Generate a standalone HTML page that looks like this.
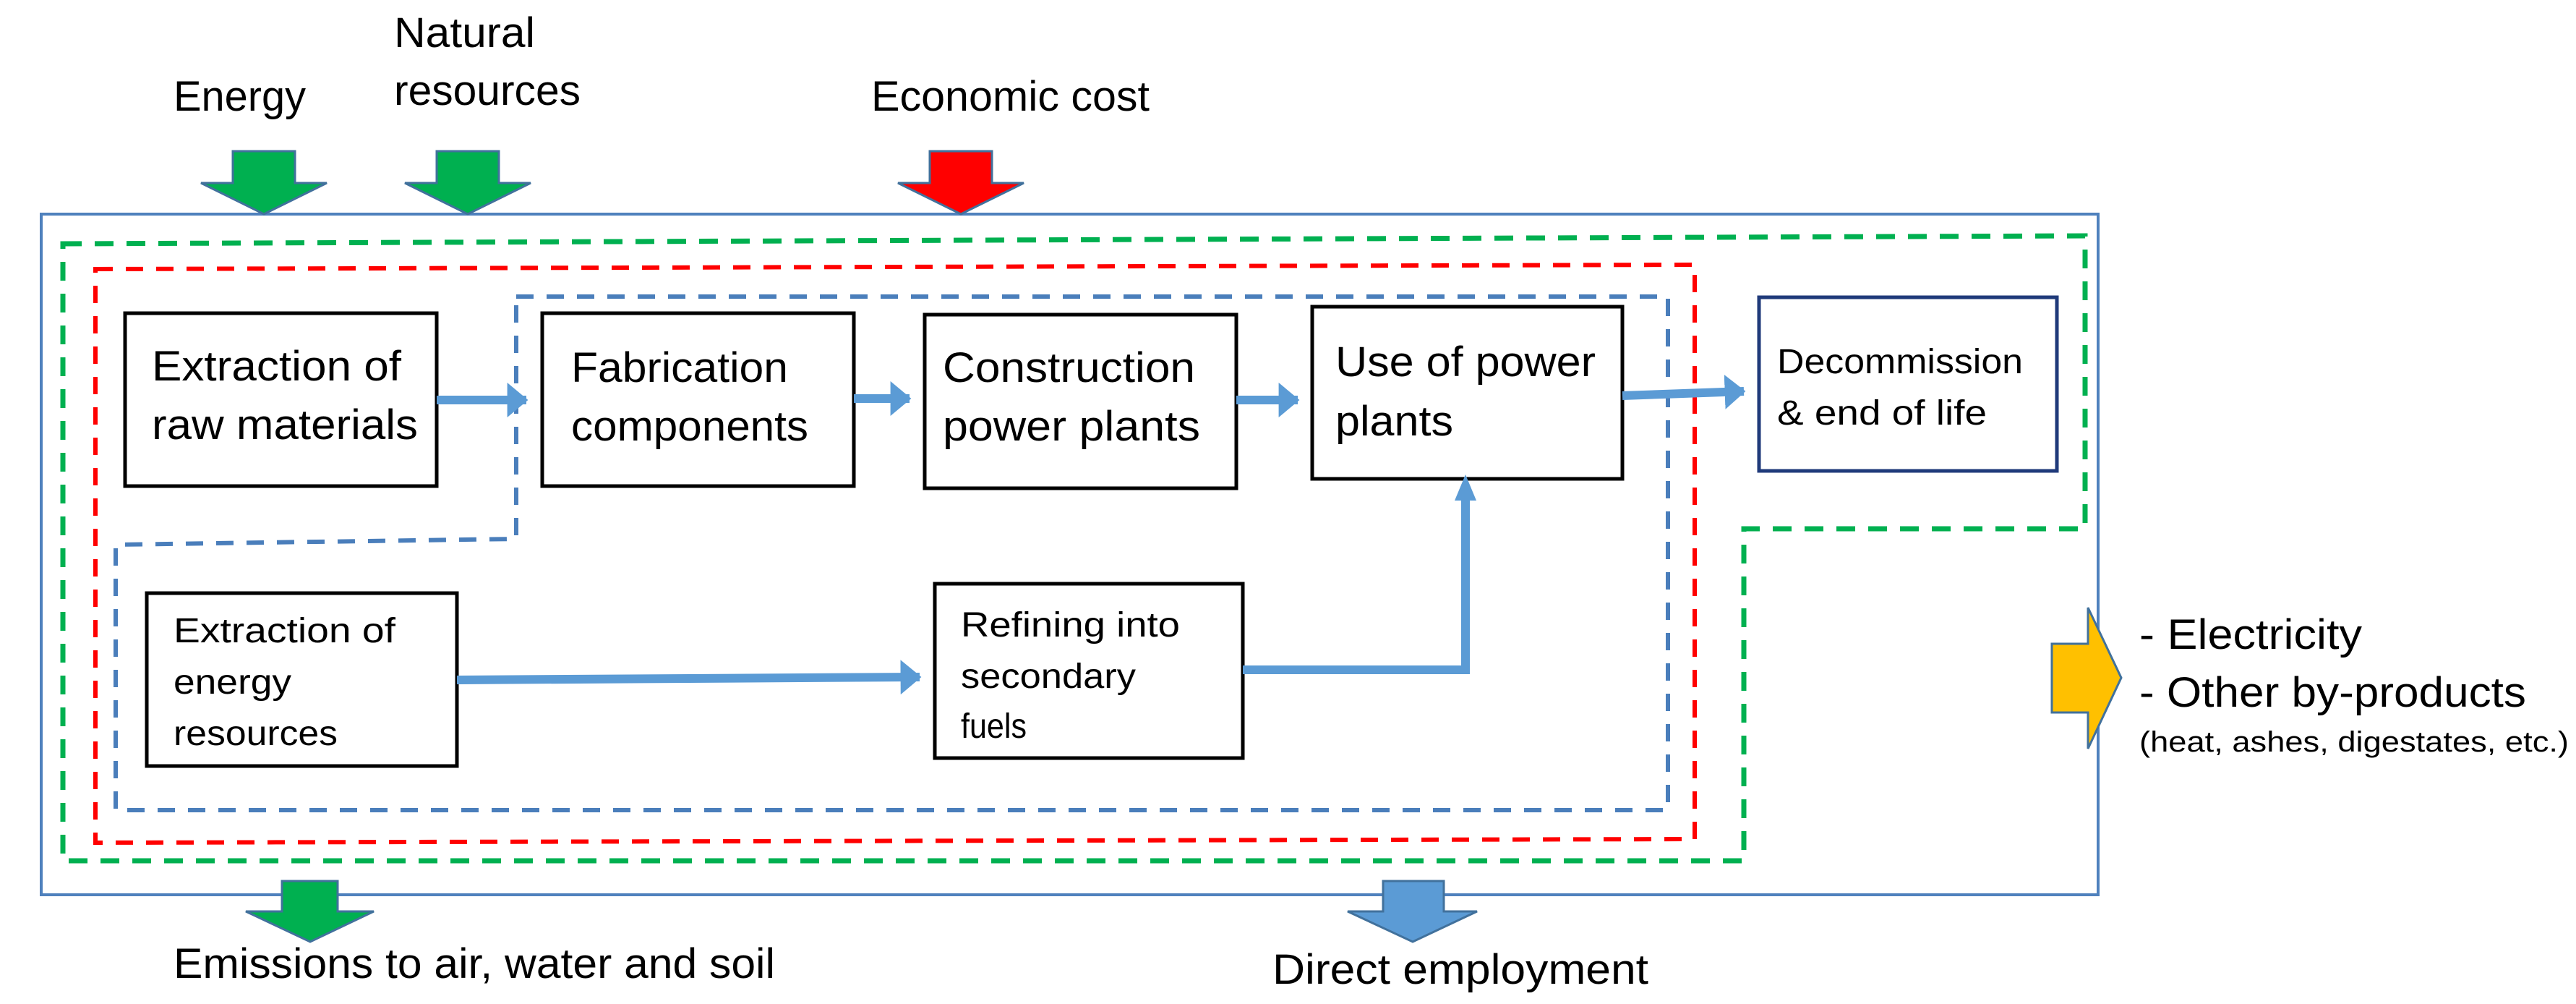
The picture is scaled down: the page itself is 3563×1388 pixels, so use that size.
<!DOCTYPE html>
<html><head><meta charset="utf-8"><style>
html,body{margin:0;padding:0;background:#fff;}
svg{display:block;}
text{font-family:"Liberation Sans",sans-serif;fill:#000;}
</style></head><body>
<svg width="3563" height="1388" viewBox="0 0 3563 1388" xmlns="http://www.w3.org/2000/svg">
<defs>
<marker id="ah" markerWidth="4" markerHeight="4" refX="2.2" refY="2" orient="auto" markerUnits="strokeWidth">
<path d="M0,0 L2.4,2 L0,4 Z" fill="#5B9BD5"/></marker>
</defs>
<!-- outer box -->
<rect x="57" y="296" width="2845" height="941" fill="none" stroke="#4F81BD" stroke-width="4"/>
<!-- green dashed -->
<path d="M87,337 L2884,326 L2884,731 L2412,731 L2412,1190 L87,1190 Z" fill="none" stroke="#00B050" stroke-width="7" stroke-dasharray="26,18"/>
<!-- red dashed -->
<path d="M132,372 L2344,366 L2344,1160 L132,1165 Z" fill="none" stroke="#FF0000" stroke-width="6" stroke-dasharray="24,18"/>
<!-- blue dashed -->
<path d="M714,410 L2307,410 L2307,1120 L160,1120 L160,753 L714,745 Z" fill="none" stroke="#4A7EBB" stroke-width="6" stroke-dasharray="24,18"/>
<!-- boxes -->
<g fill="#fff" stroke="#000" stroke-width="5">
<rect x="173" y="433" width="431" height="239"/>
<rect x="750" y="433" width="431" height="239"/>
<rect x="1279" y="435" width="431" height="240"/>
<rect x="1815" y="424" width="429" height="238"/>
<rect x="203" y="820" width="429" height="239"/>
<rect x="1293" y="807" width="426" height="241"/>
</g>
<rect x="2433" y="411" width="412" height="240" fill="#fff" stroke="#1F3A7A" stroke-width="5"/>
<!-- connectors -->
<g stroke="#5B9BD5" stroke-width="12" fill="none">
<line x1="604" y1="553" x2="728" y2="553" marker-end="url(#ah)"/>
<line x1="1181" y1="551" x2="1258" y2="551" marker-end="url(#ah)"/>
<line x1="1710" y1="553" x2="1795" y2="553" marker-end="url(#ah)"/>
<line x1="2244" y1="547" x2="2412" y2="541" marker-end="url(#ah)"/>
<line x1="632" y1="940" x2="1272" y2="936" marker-end="url(#ah)"/>
<polyline points="1719,926 2027,926 2027,686"/>
</g>
<path d="M2012,692 L2027,656 L2042,692 Z" fill="#5B9BD5"/>
<!-- top arrows -->
<g stroke="#41719C" stroke-width="3">
<path d="M322,209 L408,209 L408,253 L452,253 L365,296 L278,253 L322,253 Z" fill="#00B050"/>
<path d="M604,209 L690,209 L690,253 L734,253 L647,296 L560,253 L604,253 Z" fill="#00B050"/>
<path d="M1286,209 L1372,209 L1372,253 L1416,253 L1329,296 L1242,253 L1286,253 Z" fill="#FF0000"/>
<path d="M390,1218 L467,1218 L467,1260 L517,1260 L429,1302 L340,1260 L390,1260 Z" fill="#00B050"/>
<path d="M1913,1218 L1997,1218 L1997,1260 L2043,1260 L1954,1302 L1864,1260 L1913,1260 Z" fill="#5B9BD5"/>
<path d="M2838,890 L2888,890 L2888,840 L2934,937 L2888,1035 L2888,985 L2838,985 Z" fill="#FFC000"/>
</g>
<!-- labels -->
<g font-size="58">
<text x="240" y="153" textLength="183" lengthAdjust="spacingAndGlyphs">Energy</text>
<text x="545" y="65" textLength="195" lengthAdjust="spacingAndGlyphs">Natural</text>
<text x="545" y="145" textLength="258" lengthAdjust="spacingAndGlyphs">resources</text>
<text x="1205" y="153" textLength="385" lengthAdjust="spacingAndGlyphs">Economic cost</text>
<text x="210" y="526" textLength="345" lengthAdjust="spacingAndGlyphs">Extraction of</text>
<text x="210" y="607" textLength="368" lengthAdjust="spacingAndGlyphs">raw materials</text>
<text x="790" y="528" textLength="300" lengthAdjust="spacingAndGlyphs">Fabrication</text>
<text x="790" y="609" textLength="328" lengthAdjust="spacingAndGlyphs">components</text>
<text x="1304" y="528" textLength="349" lengthAdjust="spacingAndGlyphs">Construction</text>
<text x="1304" y="609" textLength="356" lengthAdjust="spacingAndGlyphs">power plants</text>
<text x="1847" y="520" textLength="360" lengthAdjust="spacingAndGlyphs">Use of power</text>
<text x="1847" y="602" textLength="163" lengthAdjust="spacingAndGlyphs">plants</text>
<text x="240" y="1352" textLength="832" lengthAdjust="spacingAndGlyphs">Emissions to air, water and soil</text>
<text x="1760" y="1360" textLength="520" lengthAdjust="spacingAndGlyphs">Direct employment</text>
<text x="2959" y="897" textLength="308" lengthAdjust="spacingAndGlyphs">- Electricity</text>
<text x="2959" y="977" textLength="535" lengthAdjust="spacingAndGlyphs">- Other by-products</text>
</g>
<g font-size="48">
<text x="2458" y="516" textLength="340" lengthAdjust="spacingAndGlyphs">Decommission</text>
<text x="2458" y="587" textLength="290" lengthAdjust="spacingAndGlyphs">&amp; end of life</text>
<text x="240" y="888" textLength="307" lengthAdjust="spacingAndGlyphs">Extraction of</text>
<text x="240" y="959" textLength="163" lengthAdjust="spacingAndGlyphs">energy</text>
<text x="240" y="1030" textLength="227" lengthAdjust="spacingAndGlyphs">resources</text>
<text x="1329" y="880" textLength="303" lengthAdjust="spacingAndGlyphs">Refining into</text>
<text x="1329" y="951" textLength="242" lengthAdjust="spacingAndGlyphs">secondary</text>
<text x="1329" y="1020" textLength="91" lengthAdjust="spacingAndGlyphs">fuels</text>
</g>
<text x="2959" y="1039" font-size="40" textLength="594" lengthAdjust="spacingAndGlyphs">(heat, ashes, digestates, etc.)</text>
</svg>
</body></html>
